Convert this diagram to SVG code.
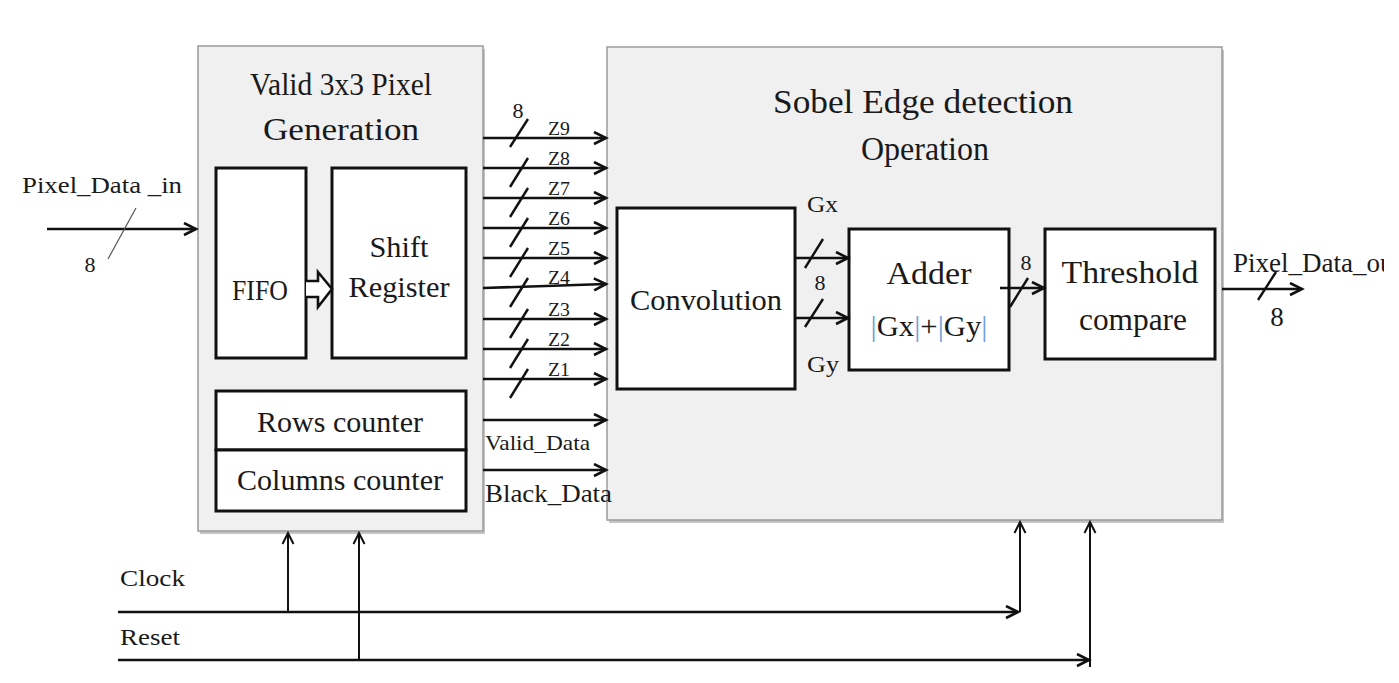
<svg xmlns="http://www.w3.org/2000/svg" width="1399" height="683" viewBox="0 0 1399 683">
<defs>
<marker id="ah" markerUnits="userSpaceOnUse" markerWidth="16" markerHeight="16" refX="13" refY="7" orient="auto">
<path d="M1,1 L13,7 L1,13" fill="none" stroke="#111" stroke-width="2.6"/>
</marker>
<marker id="ahs" markerUnits="userSpaceOnUse" markerWidth="14" markerHeight="16" refX="12" refY="7" orient="auto">
<path d="M1,1.5 L12,7 L1,12.5" fill="none" stroke="#111" stroke-width="2"/>
</marker>
<clipPath id="outclip">
<rect x="1225" y="235" width="159" height="50"/>
</clipPath>
<style>
.big{fill:#f0f0f0;stroke:#9a9a9a;stroke-width:1.5}
.sh{fill:#c4c4c4}
.blk{fill:#fff;stroke:#111;stroke-width:3}
.t{font-family:"Liberation Serif","Times New Roman",serif;fill:#1a1a1a}
.m{text-anchor:middle}
.w{stroke:#111;stroke-width:2.6;fill:none}
.ws{stroke:#111;stroke-width:2;fill:none}
.sl{stroke:#111;stroke-width:2.4}
.bar{fill:#6a9fd8}
</style>
</defs>

<g id="pixel-gen">
<rect class="sh" x="200" y="49" width="285" height="485"/>
<rect class="big" x="198" y="46" width="285" height="485"/>
<text class="t m" x="341" y="95" font-size="32" textLength="182" lengthAdjust="spacingAndGlyphs">Valid 3x3 Pixel</text>
<text class="t m" x="341" y="140" font-size="32" textLength="156" lengthAdjust="spacingAndGlyphs">Generation</text>
</g>
<g id="fifo">
<rect class="blk" x="216" y="168" width="90" height="190"/>
<text class="t m" x="260" y="300" font-size="29" textLength="56" lengthAdjust="spacingAndGlyphs">FIFO</text>
</g>
<g id="shift-register">
<rect class="blk" x="332" y="168" width="134" height="190"/>
<text class="t m" x="399" y="257" font-size="30" textLength="59" lengthAdjust="spacingAndGlyphs">Shift</text>
<text class="t m" x="399" y="297" font-size="30" textLength="101" lengthAdjust="spacingAndGlyphs">Register</text>
</g>
<g id="rows-counter">
<rect class="blk" x="216" y="391" width="250" height="59"/>
<text class="t m" x="340" y="432" font-size="30" textLength="166" lengthAdjust="spacingAndGlyphs">Rows counter</text>
</g>
<g id="columns-counter">
<rect class="blk" x="216" y="450" width="250" height="61"/>
<text class="t m" x="340" y="490" font-size="30" textLength="206" lengthAdjust="spacingAndGlyphs">Columns counter</text>
</g>

<g id="sobel">
<rect class="sh" x="609" y="50" width="615" height="473"/>
<rect class="big" x="607" y="47" width="615" height="473"/>
<text class="t m" x="923" y="113" font-size="33" textLength="300" lengthAdjust="spacingAndGlyphs">Sobel Edge detection</text>
<text class="t m" x="925" y="160" font-size="33" textLength="128" lengthAdjust="spacingAndGlyphs">Operation</text>
</g>
<g id="convolution">
<rect class="blk" x="617" y="208" width="178" height="181"/>
<text class="t m" x="706" y="310" font-size="30" textLength="152" lengthAdjust="spacingAndGlyphs">Convolution</text>
</g>
<g id="adder">
<rect class="blk" x="849" y="229" width="160" height="141"/>
<text class="t m" x="929" y="284" font-size="32" textLength="85" lengthAdjust="spacingAndGlyphs">Adder</text>
<text class="t m" x="929" y="336" font-size="30" textLength="117" lengthAdjust="spacingAndGlyphs"><tspan class="bar">|</tspan>Gx<tspan class="bar">|</tspan>+<tspan class="bar">|</tspan>Gy<tspan class="bar">|</tspan></text>
</g>
<g id="threshold">
<rect class="blk" x="1045" y="229" width="170" height="130"/>
<text class="t m" x="1130" y="283" font-size="31" textLength="137" lengthAdjust="spacingAndGlyphs">Threshold</text>
<text class="t m" x="1133" y="330" font-size="31" textLength="108" lengthAdjust="spacingAndGlyphs">compare</text>
</g>

<g id="connectors">
<line class="w" x1="47" y1="229" x2="196" y2="229" marker-end="url(#ah)"/>
<line x1="108" y1="259" x2="136" y2="208" stroke="#555" stroke-width="1.2"/>
<path d="M306,281 L318,281 L318,272 L332,289 L318,307 L318,297 L306,297" fill="#fff" stroke="#111" stroke-width="2.6" stroke-linejoin="miter"/>
<line class="w" x1="483" y1="138" x2="606" y2="138" marker-end="url(#ah)"/>
<line class="w" x1="483" y1="168" x2="606" y2="168" marker-end="url(#ah)"/>
<line class="w" x1="483" y1="198" x2="606" y2="198" marker-end="url(#ah)"/>
<line class="w" x1="483" y1="228" x2="606" y2="228" marker-end="url(#ah)"/>
<line class="w" x1="483" y1="258" x2="606" y2="258" marker-end="url(#ah)"/>
<line class="w" x1="483" y1="288" x2="606" y2="284" marker-end="url(#ah)"/>
<line class="w" x1="483" y1="319" x2="606" y2="319" marker-end="url(#ah)"/>
<line class="w" x1="483" y1="349" x2="606" y2="349" marker-end="url(#ah)"/>
<line class="w" x1="483" y1="379" x2="606" y2="379" marker-end="url(#ah)"/>
<line class="w" x1="483" y1="420" x2="606" y2="420" marker-end="url(#ah)"/>
<line class="w" x1="483" y1="470" x2="606" y2="470" marker-end="url(#ah)"/>
<line class="sl" x1="510" y1="147" x2="528" y2="119"/>
<line class="sl" x1="510" y1="187" x2="528" y2="158"/>
<line class="sl" x1="510" y1="217" x2="528" y2="188"/>
<line class="sl" x1="510" y1="247" x2="528" y2="218"/>
<line class="sl" x1="510" y1="277" x2="528" y2="248"/>
<line class="sl" x1="510" y1="307" x2="528" y2="278"/>
<line class="sl" x1="510" y1="338" x2="528" y2="309"/>
<line class="sl" x1="510" y1="368" x2="528" y2="339"/>
<line class="sl" x1="510" y1="398" x2="528" y2="369"/>
<line class="w" x1="795" y1="258" x2="848" y2="258" marker-end="url(#ah)"/>
<line class="w" x1="795" y1="318" x2="848" y2="318" marker-end="url(#ah)"/>
<line class="sl" x1="805" y1="268" x2="823" y2="239"/>
<line class="sl" x1="805" y1="327" x2="823" y2="299"/>
<line class="w" x1="1000" y1="288" x2="1044" y2="288" marker-end="url(#ah)"/>
<line class="sl" x1="1010" y1="307" x2="1028" y2="278"/>
<line class="w" x1="1222" y1="289" x2="1302" y2="289" marker-end="url(#ah)"/>
<line class="sl" x1="1258" y1="300" x2="1276" y2="272"/>
<line class="w" x1="118" y1="612" x2="1018" y2="612" marker-end="url(#ah)"/>
<line class="w" x1="118" y1="660" x2="1089" y2="660" marker-end="url(#ah)"/>
<line class="ws" x1="288" y1="612" x2="288" y2="533" marker-end="url(#ahs)"/>
<line class="ws" x1="359" y1="660" x2="359" y2="533" marker-end="url(#ahs)"/>
<line class="ws" x1="1020" y1="612" x2="1020" y2="522" marker-end="url(#ahs)"/>
<line class="ws" x1="1090" y1="667" x2="1090" y2="522" marker-end="url(#ahs)"/>
</g>

<g id="labels">
<text class="t" x="22" y="193" font-size="24" textLength="160" lengthAdjust="spacingAndGlyphs">Pixel_Data _in</text>
<text class="t m" x="90" y="272" font-size="22">8</text>
<text class="t m" x="518" y="118" font-size="22">8</text>
<text class="t" x="548" y="135" font-size="19" textLength="22" lengthAdjust="spacingAndGlyphs">Z9</text>
<text class="t" x="548" y="165" font-size="19" textLength="22" lengthAdjust="spacingAndGlyphs">Z8</text>
<text class="t" x="548" y="195" font-size="19" textLength="22" lengthAdjust="spacingAndGlyphs">Z7</text>
<text class="t" x="548" y="225" font-size="19" textLength="22" lengthAdjust="spacingAndGlyphs">Z6</text>
<text class="t" x="548" y="255" font-size="19" textLength="22" lengthAdjust="spacingAndGlyphs">Z5</text>
<text class="t" x="548" y="284" font-size="19" textLength="22" lengthAdjust="spacingAndGlyphs">Z4</text>
<text class="t" x="548" y="316" font-size="19" textLength="22" lengthAdjust="spacingAndGlyphs">Z3</text>
<text class="t" x="548" y="346" font-size="19" textLength="22" lengthAdjust="spacingAndGlyphs">Z2</text>
<text class="t" x="548" y="376" font-size="19" textLength="22" lengthAdjust="spacingAndGlyphs">Z1</text>
<text class="t" x="485" y="450" font-size="22" textLength="105" lengthAdjust="spacingAndGlyphs">Valid_Data</text>
<text class="t" x="485" y="502" font-size="26" textLength="127" lengthAdjust="spacingAndGlyphs">Black_Data</text>
<text class="t" x="807" y="212" font-size="24" textLength="31" lengthAdjust="spacingAndGlyphs">Gx</text>
<text class="t" x="807" y="372" font-size="24" textLength="32" lengthAdjust="spacingAndGlyphs">Gy</text>
<text class="t m" x="820" y="290" font-size="22">8</text>
<text class="t m" x="1026" y="270" font-size="22">8</text>
<text class="t" x="1233" y="272" font-size="27" clip-path="url(#outclip)">Pixel_Data_out</text>
<text class="t m" x="1277" y="326" font-size="27">8</text>
<text class="t" x="120" y="586" font-size="23" textLength="65" lengthAdjust="spacingAndGlyphs">Clock</text>
<text class="t" x="120" y="645" font-size="23" textLength="60" lengthAdjust="spacingAndGlyphs">Reset</text>
</g>
</svg>
